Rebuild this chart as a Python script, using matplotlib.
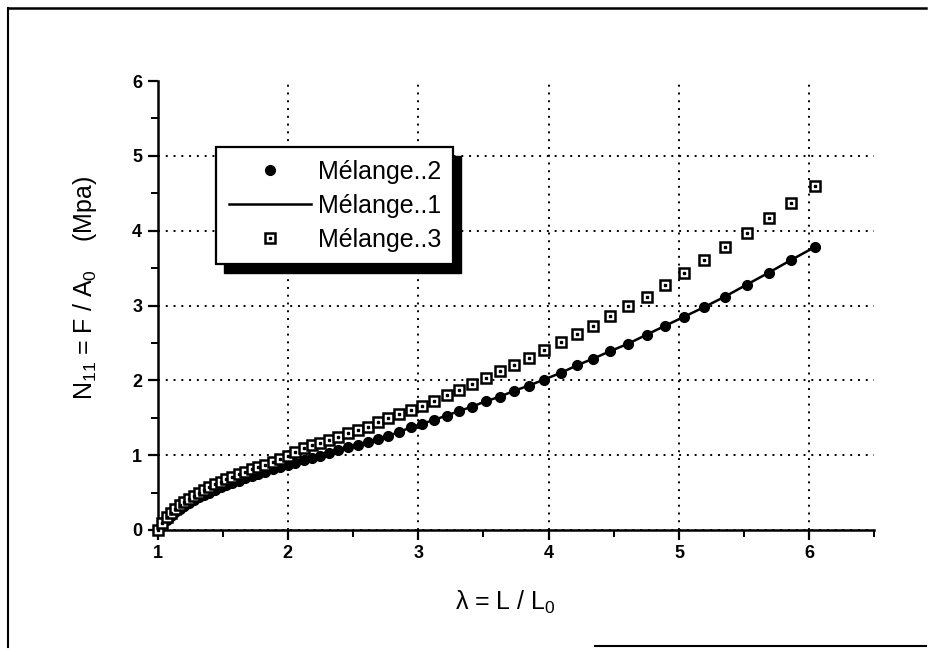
import matplotlib
matplotlib.use("Agg")
import matplotlib.pyplot as plt
from matplotlib.ticker import MultipleLocator
from matplotlib.patches import Rectangle
from matplotlib.lines import Line2D

plt.rcParams["font.family"] = ["Liberation Sans", "DejaVu Sans"]
plt.rcParams["mathtext.fontset"] = "custom"
plt.rcParams["mathtext.rm"] = "Liberation Sans"

# stretch ratio lambda = L / L0 (same sampling for all series)
lam = [1.000, 1.038, 1.070, 1.102, 1.135, 1.170, 1.205, 1.241, 1.279, 1.317,
       1.357, 1.398, 1.440, 1.484, 1.529, 1.575, 1.622, 1.671, 1.722, 1.774,
       1.827, 1.883, 1.939, 1.998, 2.058, 2.120, 2.184, 2.250, 2.318, 2.388,
       2.460, 2.535, 2.611, 2.690, 2.771, 2.855, 2.941, 3.031, 3.120, 3.218,
       3.315, 3.415, 3.517, 3.625, 3.735, 3.850, 3.965, 4.094, 4.217, 4.342,
       4.473, 4.611, 4.752, 4.895, 5.040, 5.195, 5.354, 5.521, 5.690, 5.862,
       6.041]

melange2 = [0.00, 0.07, 0.13, 0.19, 0.24, 0.28, 0.32, 0.36, 0.40, 0.44,
            0.47, 0.50, 0.54, 0.57, 0.60, 0.63, 0.66, 0.69, 0.72, 0.75,
            0.78, 0.81, 0.84, 0.87, 0.90, 0.93, 0.96, 0.99, 1.03, 1.07,
            1.11, 1.14, 1.18, 1.22, 1.26, 1.31, 1.37, 1.42, 1.47, 1.53,
            1.59, 1.65, 1.72, 1.78, 1.86, 1.93, 2.01, 2.10, 2.20, 2.29,
            2.39, 2.49, 2.61, 2.73, 2.85, 2.98, 3.12, 3.28, 3.44, 3.61,
            3.78]

# Mélange..1 (solid line) lies right on top of the Mélange..2 markers
melange1 = list(melange2)

melange3 = [0.00, 0.10, 0.17, 0.23, 0.28, 0.33, 0.37, 0.41, 0.45, 0.49,
            0.53, 0.57, 0.61, 0.64, 0.68, 0.71, 0.75, 0.78, 0.81, 0.84,
            0.87, 0.91, 0.95, 0.99, 1.04, 1.09, 1.13, 1.16, 1.20, 1.24,
            1.29, 1.34, 1.38, 1.44, 1.50, 1.55, 1.61, 1.66, 1.73, 1.80,
            1.87, 1.95, 2.03, 2.12, 2.21, 2.30, 2.40, 2.51, 2.62, 2.73,
            2.86, 2.99, 3.12, 3.28, 3.44, 3.61, 3.78, 3.97, 4.17, 4.37,
            4.60]

xticks = [1, 2, 3, 4, 5, 6]
yticks = [0, 1, 2, 3, 4, 5, 6]

fig = plt.figure(figsize=(9.32, 6.55), dpi=100)
ax = fig.add_axes([157.5 / 932, 125 / 655, 717 / 932, 449 / 655])

ax.plot(lam, melange1, color="black", lw=1.8, zorder=3, clip_on=False)
h2, = ax.plot(lam, melange2, ls="none", marker="o", ms=7, color="black",
              zorder=4, clip_on=False)
h3, = ax.plot(lam, melange3, ls="none", marker="s", ms=7.8, mfc="white",
              mec="black", mew=1.8, zorder=5, clip_on=False)
h3d, = ax.plot(lam, melange3, ls="none", marker="s", ms=1.6, color="black",
               zorder=6, clip_on=False)
h1 = Line2D([], [], color="black", lw=1.8)

ax.set_xlim(1, 6.5)
ax.set_ylim(0, 6)
ax.set_xticks(xticks)
ax.set_yticks(yticks)
ax.xaxis.set_minor_locator(MultipleLocator(0.5))
ax.yaxis.set_minor_locator(MultipleLocator(0.5))
ax.tick_params(which="major", direction="out", length=7, width=1.6,
               labelsize=13, pad=4)
ax.tick_params(which="minor", direction="out", length=5, width=1.4)
for lab in ax.get_xticklabels() + ax.get_yticklabels():
    lab.set_fontweight("bold")

for s in ["top", "right"]:
    ax.spines[s].set_visible(False)
for s in ["left", "bottom"]:
    ax.spines[s].set_linewidth(1.8)

ax.grid(True, which="major", color="black", ls=(0, (1, 3)), lw=1.4)
ax.yaxis.get_gridlines()[-1].set_visible(False)

ax.set_xlabel(r"λ = L / L$_\mathregular{0}$", fontsize=18)
ax.xaxis.set_label_coords(0.485, -0.13)
ax.set_ylabel(r"N$_\mathregular{11}$ = F / A$_\mathregular{0}$    (Mpa)",
              fontsize=18)
ax.yaxis.set_label_coords(-0.082, 0.54)

leg = ax.legend([h2, h1, (h3, h3d)], ["Mélange..2", "Mélange..1", "Mélange..3"],
                loc="upper left", bbox_to_anchor=(0.082, 0.853),
                borderaxespad=0, fontsize=18,
                frameon=True, fancybox=False, edgecolor="black",
                framealpha=1, handlelength=3.3, handletextpad=0.25,
                borderpad=0.5, labelspacing=0.4, numpoints=1)
leg.get_frame().set_linewidth(1.6)
leg.set_zorder(10)

# offset black shadow under the legend box
fig.canvas.draw()
bb = leg.get_window_extent().transformed(fig.transFigure.inverted())
shadow = Rectangle((bb.x0 + 8 / 932, bb.y0 - 9 / 655), bb.width, bb.height,
                   transform=fig.transFigure, color="black", zorder=9)
ax.add_artist(shadow)
shadow.set_clip_on(False)

# page frame around the figure
fig.add_artist(Line2D([8 / 932, 8 / 932], [8 / 655, 647 / 655], color="black", lw=1.5))
fig.add_artist(Line2D([8 / 932, 926 / 932], [647 / 655, 647 / 655], color="black", lw=1.8))
fig.add_artist(Line2D([595 / 932, 926 / 932], [9 / 655, 9 / 655], color="black", lw=1.5))

fig.savefig("out.png", dpi=100)
